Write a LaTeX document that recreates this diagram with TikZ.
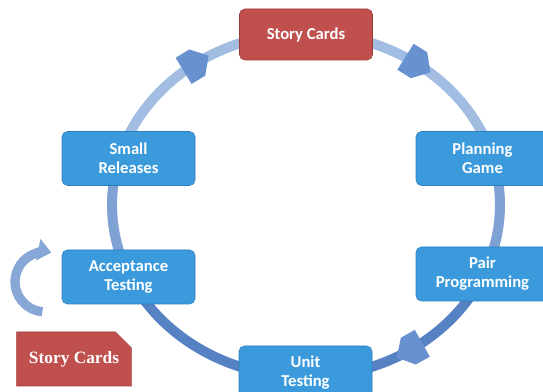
\documentclass[tikz,border=0pt]{standalone}
\usepackage{fontspec}
\setmainfont{Carlito}
\newfontfamily\cardfont{Liberation Serif}
\usetikzlibrary{arrows.meta, decorations.markings, shapes.misc}

\definecolor{boxblue}{RGB}{58,154,220}
\definecolor{boxedge}{RGB}{42,126,190}
\definecolor{cardred}{RGB}{192,80,77}
\definecolor{cardedge}{RGB}{158,58,56}
\definecolor{ringlight}{RGB}{162,188,226}
\definecolor{ringmid}{RGB}{128,161,212}
\definecolor{ringdark}{RGB}{86,130,196}
\definecolor{headblue}{RGB}{104,145,208}

\begin{document}
\begin{tikzpicture}[x = .75pt, y = .75pt,
    stage/.style = {draw = boxedge, fill = boxblue, rounded corners = 4pt,
                    minimum width = 99.75pt, minimum height = 40.5pt, text = white,
                    font = \bfseries\fontsize{12.5}{14.3}\selectfont, align = center},
    ring/.style = {line width = 7.5pt},
    headmark/.style = {postaction = {decorate, decoration = {markings,
        mark = at position #1 with {\fill[headblue] (-11pt,-11.5pt) -- (1pt,-11.5pt) --
              (11pt,0pt) -- (1pt,11.5pt) -- (-11pt,11.5pt) -- cycle;}}}}]
        \useasboundingbox (0,0) rectangle (543,392);
        \clip (0,0) rectangle (543,392);

        % the cycle
        \coordinate (o) at (306,187);
        \path (o) ++(90:194 and 172)     coordinate (r-top)
              (o) ++(15.7:194 and 172)   coordinate (r-plan)
              (o) ++(-23.7:194 and 172)  coordinate (r-pair)
              (o) ++(-90:194 and 172)    coordinate (r-unit)
              (o) ++(-155.2:194 and 172) coordinate (r-acc)
              (o) ++(164.3:194 and 172)  coordinate (r-small);

        \draw[ring, ringlight, headmark = .49] (r-top) arc[start angle = 90, end angle = 15.7, x radius = 194, y radius = 172];
        \draw[ring, ringmid] (r-plan) arc[start angle = 15.7, end angle = -23.7, x radius = 194, y radius = 172];
        \draw[ring, ringdark, headmark = .5] (r-pair) arc[start angle = -23.7, end angle = -90, x radius = 194, y radius = 172];
        \draw[ring, ringdark] (r-unit) arc[start angle = -90, end angle = -155.2, x radius = 194, y radius = 172];
        \draw[ring, ringmid] (r-acc) arc[start angle = 204.8, end angle = 164.3, x radius = 194, y radius = 172];
        \draw[ring, ringlight, headmark = .52] (r-small) arc[start angle = 164.3, end angle = 90, x radius = 194, y radius = 172];

        \node[stage, draw = cardedge, fill = cardred, minimum height = 38.25pt] (stories) at (306,357.5) {Story Cards};
        \node[stage] (plan) at (482.5,233.5) {Planning\\Game};
        \node[stage] (pair) at (482.5,118) {Pair\\Programming};
        \node[stage] (unit) at (305.5,19) {Unit\\Testing};
        \node[stage] (accept) at (128.5,115) {Acceptance\\Testing};
        \node[stage] (small) at (128.5,233.5) {Small\\Releases};

        % new cards coming in
        \node[chamfered rectangle, chamfered rectangle corners = north east,
              chamfered rectangle xsep = 6pt, chamfered rectangle ysep = 6pt,
              draw = cardedge, fill = cardred, minimum width = 84pt, minimum height = 40.5pt,
              text = white, font = \cardfont\bfseries\fontsize{13}{15}\selectfont]
              (cards) at (74,33) {Story Cards};
        \draw[line width = 7pt, ringmid!80!ringlight, -{Triangle[width = 16pt, length = 10pt]}]
              (cards.north) ++(-31.6,20) arc[start angle = -95, end angle = -282, radius = 30];
      \end{tikzpicture}
\end{document}
